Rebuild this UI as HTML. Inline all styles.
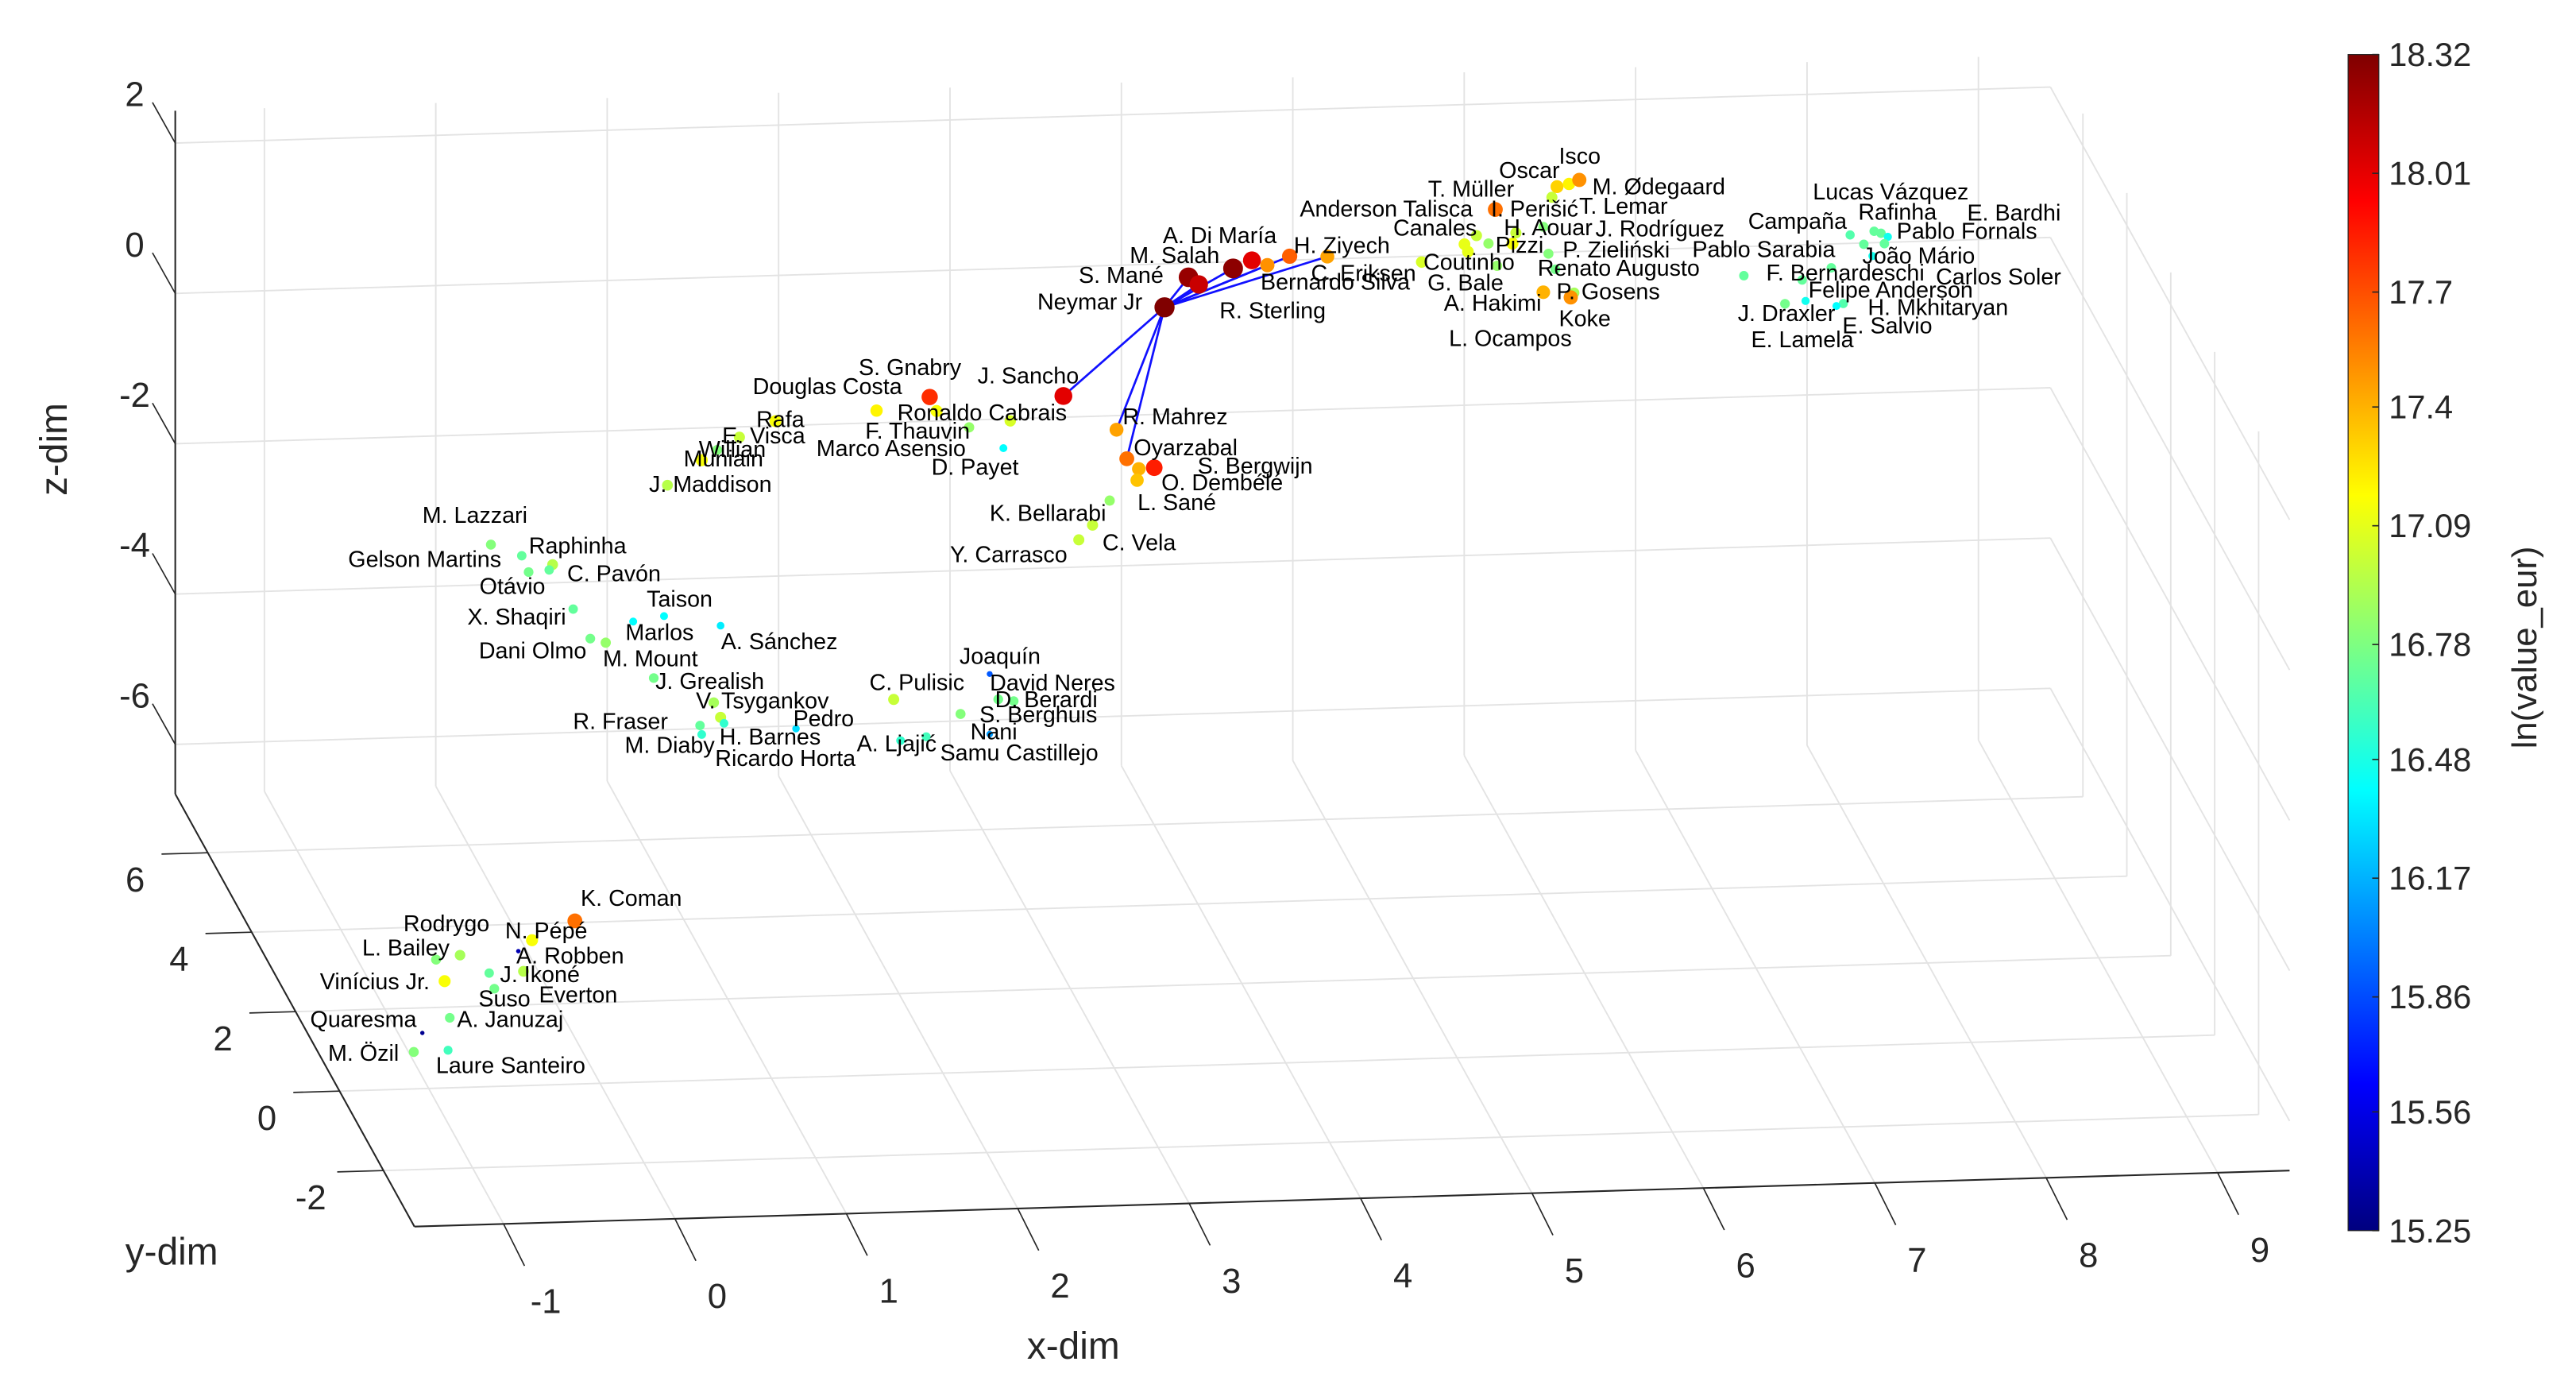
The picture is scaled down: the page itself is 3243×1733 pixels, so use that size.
<!DOCTYPE html>
<html><head><meta charset="utf-8"><style>
html,body{margin:0;padding:0;background:#fff;}
svg{display:block;font-family:"Liberation Sans",Arial,sans-serif;}
</style></head><body>
<svg id="chart" width="3243" height="1733" viewBox="0 0 1560 833.6" xmlns="http://www.w3.org/2000/svg">
<g id="grid"></g>
<g id="axes"></g>
<g id="links"></g>
<g id="points"></g>
<g id="labels"></g>
<g id="cbar"></g>
</svg>
<script>
const names=["Neymar Jr","S. Mané","R. Sterling","M. Salah","A. Di María","Bernardo Silva","H. Ziyech","C. Eriksen","J. Sancho","R. Mahrez","Oyarzabal","O. Dembélé","L. Sané","S. Bergwijn","K. Bellarabi","C. Vela","Y. Carrasco","Marco Asensio","D. Payet","S. Gnabry","Douglas Costa","Ronaldo Cabrais","F. Thauvin","Rafa","E. Visca","Willian","Muniain","J. Maddison","M. Lazzari","Raphinha","Gelson Martins","C. Pavón","Otávio","X. Shaqiri","Taison","Marlos","A. Sánchez","Dani Olmo","M. Mount","J. Grealish","V. Tsygankov","H. Barnes","Ricardo Horta","Pedro","R. Fraser","M. Diaby","C. Pulisic","Joaquín","David Neres","D. Berardi","S. Berghuis","Nani","A. Ljajić","Samu Castillejo","K. Coman","N. Pépé","Rodrygo","L. Bailey","A. Robben","J. Ikoné","Suso","Everton","Vinícius Jr.","Quaresma","A. Januzaj","M. Özil","Laure Santeiro","Coutinho","Canales","L. Ocampos","J. Rodríguez","T. Lemar","I. Perišić","H. Aouar","Pizzi","G. Bale","A. Hakimi","P. Gosens","Koke","P. Zieliński","Renato Augusto","T. Müller","Isco","Oscar","M. Ødegaard","Anderson Talisca","Campaña","Lucas Vázquez","Rafinha","E. Bardhi","Pablo Fornals","Carlos Soler","João Mário","F. Bernardeschi","Pablo Sarabia","Felipe Anderson","J. Draxler","E. Lamela","H. Mkhitaryan","E. Salvio"];
const xs=[4.19,4.33,4.39,4.59,4.70,4.79,4.92,5.14,3.60,3.91,3.97,4.04,4.03,4.13,3.87,3.77,3.69,3.29,3.25,2.82,2.51,2.86,3.05,1.92,1.71,1.58,1.49,1.29,0.26,0.44,0.48,0.62,0.60,0.74,1.27,1.09,1.60,0.84,0.93,1.21,1.56,1.60,1.62,2.04,1.48,1.49,2.61,3.17,3.22,3.31,3.00,3.17,2.65,2.80,0.75,0.50,0.08,-0.06,0.42,0.45,0.25,0.28,-0.01,-0.14,0.02,-0.19,0.01,5.69,6.01,5.94,5.96,6.08,6.24,6.40,6.22,6.13,6.40,6.58,6.56,6.43,6.47,6.45,6.48,6.55,6.61,6.12,8.19,8.33,8.37,8.41,8.39,8.27,8.32,8.08,7.57,7.91,7.81,7.93,8.15,8.11];
const ys=new Array(names.length).fill(7);
const zs=[-0.32,0.07,-0.03,0.17,0.27,0.20,0.31,0.29,-1.46,-1.93,-2.32,-2.46,-2.61,-2.45,-2.87,-3.19,-3.38,-1.77,-2.13,-1.42,-1.58,-1.61,-1.84,-1.68,-1.88,-2.04,-2.17,-2.49,-3.21,-3.37,-3.59,-3.50,-3.57,-4.10,-4.23,-4.29,-4.38,-4.50,-4.56,-5.05,-5.40,-5.60,-5.68,-5.78,-5.70,-5.82,-5.43,-5.13,-5.47,-5.50,-5.65,-5.93,-5.98,-5.94,-8.25,-8.49,-8.66,-8.71,-8.63,-8.90,-8.91,-9.12,-9.00,-9.68,-9.49,-9.93,-9.92,0.18,0.51,0.40,0.30,0.40,0.53,0.60,0.39,0.10,-0.27,-0.29,-0.35,0.24,0.03,0.99,1.13,1.16,1.21,0.85,0.37,0.41,0.38,0.33,0.24,0.24,0.08,-0.06,-0.13,-0.21,-0.52,-0.49,-0.54,-0.57];
const vals=[18.32,18.25,18.1,18.28,18.02,17.5,17.65,17.45,18.02,17.45,17.6,17.4,17.35,17.85,16.85,17.0,17.0,17.05,16.4,17.8,17.2,17.15,16.85,17.15,17.0,16.8,17.15,16.95,16.8,16.7,16.75,16.95,16.7,16.7,16.4,16.4,16.35,16.75,16.85,16.75,16.9,17.0,16.55,16.3,16.7,16.55,17.0,15.9,16.75,16.75,16.8,16.1,16.55,16.6,17.6,17.15,16.9,16.8,15.4,16.95,16.7,16.75,17.15,15.3,16.75,16.8,16.6,17.05,17.0,17.1,17.1,16.85,17.0,16.8,17.15,16.85,17.4,16.9,17.5,16.8,16.75,17.0,17.3,17.2,17.5,17.6,16.65,16.7,16.7,16.45,16.7,16.7,16.45,16.7,16.7,16.7,16.75,16.45,16.65,16.4];
const labelDx=[-77,-66.5,12.5,-62.6,-54,-4.1,2.5,-9.9,-52,3.7,4.2,13.7,0.3,26.2,-72.7,6,-78,-117.4,-43.6,-43,-75,-23.8,-62.9,-11.6,-10.5,-11.1,-11,-11.2,-41.5,4.3,-109.3,8.8,-42.2,-64.1,-10.5,-4.7,0.3,-67.5,-1.7,1,-10.8,-0.7,-5.4,-1.7,-76.9,-46.6,-14.7,-18.3,-5.1,-11.3,11.5,-11.7,-26.5,8.4,3.5,-16.3,-34.3,-44.7,-1.2,-14.2,-6.5,27,-75.5,-67.9,4.4,-51.9,-7.3,1.1,-50.4,-9.4,77.2,54.9,-15.1,-23.9,-10.3,-42.1,-60.2,-10.7,-7.2,8.6,-10.7,-75,1.1,-42.4,7.9,-118.4,-61.8,-37.1,-13.8,48,7.4,43.6,-6.1,-39.4,-31.3,3.8,-28.6,-33,14.8,3.6];
const labelDy=[-3,-1,16,-7.6,-14.8,10.4,-6.2,10.5,-12,-7.7,-6.5,8.6,13.7,-0.7,8,10.8,9.3,17.1,11.7,-17.7,-14.4,1.3,2.4,-0.8,-0.7,-0.2,-0.5,-0.3,-17.6,-5.8,-7.5,5.7,10.2,5,-10.1,6.8,9.8,7.5,10,2.3,-0.7,12.2,21.6,-5.8,-2.3,6.7,-10,-10.4,-9.7,-0.6,0.8,-1.1,2.1,10,-13.5,-5.4,-18.7,-6.8,3,2.3,15.8,4,0.5,-8,1.1,0.9,9.4,0.3,-4.4,57.4,-13.6,-22.4,-14.3,0.8,1.1,10.5,6.8,-0.5,13.1,-2.1,-0.5,-4.8,-18.3,-8,4.3,0,-8,-23.6,-12.5,-14.2,-7.4,19.9,0,3.3,-15.7,6.4,6.1,23.6,2.7,12.2];
const hub="Neymar Jr";
const neighbors=["S. Mané","R. Sterling","M. Salah","Bernardo Silva","H. Ziyech","C. Eriksen","J. Sancho","R. Mahrez","Oyarzabal"];
const xTicks=[-1,0,1,2,3,4,5,6,7,8,9];
const yTicks=[-2,0,2,4,6];
const zTicks=[-6,-4,-2,0,2];
const cbTicks=[15.25,15.56,15.86,16.17,16.48,16.78,17.09,17.4,17.7,18.01,18.32];
const cbTickLabels=["15.25","15.56","15.86","16.17","16.48","16.78","17.09","17.4","17.7","18.01","18.32"];
const XMIN=-1.52,XMAX=9.42,YMIN=-3.41,YMAX=7.48,ZMIN=-6.66,ZMAX=2.43;
const VMIN=15.25,VMAX=18.32;

const NS="http://www.w3.org/2000/svg";
function P(x,y,z){return [363.4+x*103.8-y*13.3, 352.8-x*3.1-y*24.05-z*45.5];}
function mk(tag,attrs,parent){const e=document.createElementNS(NS,tag);for(const k in attrs)e.setAttribute(k,attrs[k]);parent.appendChild(e);return e;}
function line(a,b,parent,stroke,w){return mk("line",{x1:a[0],y1:a[1],x2:b[0],y2:b[1],stroke:stroke,"stroke-width":w},parent);}
function jet(f){f=Math.max(0,Math.min(1,f));
 const r=Math.max(0,Math.min(1,1.5-Math.abs(4*f-3)));
 const g=Math.max(0,Math.min(1,1.5-Math.abs(4*f-2)));
 const b=Math.max(0,Math.min(1,1.5-Math.abs(4*f-1)));
 return `rgb(${Math.round(r*255)},${Math.round(g*255)},${Math.round(b*255)})`;}

const grid=document.getElementById("grid"),axes=document.getElementById("axes");
const GC="#e3e3e3",GW=0.9;
// back wall
xTicks.forEach(x=>{const l=line(P(x,YMAX,ZMIN),P(x,YMAX,ZMAX),grid,GC,GW);

});
zTicks.forEach(z=>{const l=line(P(XMIN,YMAX,z),P(XMAX,YMAX,z),grid,GC,GW);

});
// floor
xTicks.forEach(x=>{const l=line(P(x,YMIN,ZMIN),P(x,YMAX,ZMIN),grid,GC,GW);

});
yTicks.forEach(y=>{const l=line(P(XMIN,y,ZMIN),P(XMAX,y,ZMIN),grid,GC,GW);

});
// right wall
yTicks.forEach(y=>{const l=line(P(XMAX,y,ZMIN),P(XMAX,y,ZMAX),grid,GC,GW);

});
zTicks.forEach(z=>{const l=line(P(XMAX,YMIN,z),P(XMAX,YMAX,z),grid,GC,GW);

});

const AC="#262626";
let a=line(P(XMIN,YMIN,ZMIN),P(XMAX,YMIN,ZMIN),axes,AC,1);


a=line(P(XMIN,YMIN,ZMIN),P(XMIN,YMAX,ZMIN),axes,AC,1);


a=line(P(XMIN,YMAX,ZMIN),P(XMIN,YMAX,ZMAX),axes,AC,1);



const TF=21;
xTicks.forEach((x,i)=>{const b=P(x,YMIN,ZMIN);
 const t=line(b,[b[0]+12.7,b[1]+25.4],axes,AC,0.8);
 
 
 const tx=mk("text",{x:b[0]+25.6,y:b[1]+47,"font-size":TF,"text-anchor":"middle","dominant-baseline":"central",fill:AC},axes);
 tx.textContent=String(x);
 
 });
yTicks.forEach(y=>{const b=P(XMIN,y,ZMIN);
 const t=line(b,[b[0]-28,b[1]+0.8],axes,AC,0.8);
 
 
 const tx=mk("text",{x:b[0]-44,y:b[1]+16.5,"font-size":TF,"text-anchor":"middle","dominant-baseline":"central",fill:AC},axes);
 tx.textContent=String(y);
 
 });
zTicks.forEach(z=>{const b=P(XMIN,YMAX,z);
 const t=line(b,[b[0]-13.8,b[1]-24.6],axes,AC,0.8);
 
 
 const tx=mk("text",{x:b[0]-24.6,y:b[1]-29.3,"font-size":TF,"text-anchor":"middle","dominant-baseline":"central",fill:AC},axes);
 tx.textContent=String(z);
 
 });
let at=mk("text",{x:650,y:815,"font-size":23,"text-anchor":"middle","dominant-baseline":"central",fill:AC},axes);at.textContent="x-dim";


at=mk("text",{x:104,y:758,"font-size":23,"text-anchor":"middle","dominant-baseline":"central",fill:AC},axes);at.textContent="y-dim";


at=mk("text",{x:0,y:0,"font-size":23,"text-anchor":"middle","dominant-baseline":"central",fill:AC,transform:"translate(33,272) rotate(-90)"},axes);at.textContent="z-dim";



// neighbor links
const links=document.getElementById("links");
const hi=names.indexOf(hub);const hp=P(xs[hi],ys[hi],zs[hi]);
neighbors.forEach(n=>{const j=names.indexOf(n);if(j<0)return;
 const q=P(xs[j],ys[j],zs[j]);
 const l=line(hp,q,links,"#1010ff",1.3);
 
 });

// points & labels
const pts=document.getElementById("points"),lbls=document.getElementById("labels");
names.forEach((n,i)=>{const p=P(xs[i],ys[i],zs[i]);
 const f=(vals[i]-VMIN)/(VMAX-VMIN);
 const r=1.3+4.8*Math.pow(Math.max(0,f),1.5);
 const c=mk("circle",{cx:p[0],cy:p[1],r:r,fill:jet(f)},pts);
 
 
 const t=mk("text",{x:p[0]+labelDx[i],y:p[1]+labelDy[i],"font-size":13.8,"dominant-baseline":"central",fill:"#000"},lbls);
 t.textContent=n;
 
 });

// colorbar
const cb=document.getElementById("cbar");
const defs=mk("defs",{},cb);
const grad=mk("linearGradient",{id:"jetg",x1:0,y1:1,x2:0,y2:0},defs);
[[0,"#00007f"],[0.125,"#0000ff"],[0.375,"#00ffff"],[0.625,"#ffff00"],[0.875,"#ff0000"],[1,"#7f0000"]].forEach(s=>mk("stop",{offset:s[0],"stop-color":s[1]},grad));
const CBX=1422,CBW=18.6,CBT=33,CBB=745;
const rect=mk("rect",{x:CBX,y:CBT,width:CBW,height:CBB-CBT,fill:"url(#jetg)",stroke:"#262626","stroke-width":0.6},cb);


function cbY(v){return CBB-(v-VMIN)/(VMAX-VMIN)*(CBB-CBT);}
cbTicks.forEach((v,i)=>{const y=cbY(v);
 const t=line([CBX+CBW-4,y],[CBX+CBW,y],cb,"#262626",0.8);
 
 
 const tx=mk("text",{x:CBX+CBW+6,y:y,"font-size":20,"dominant-baseline":"central",fill:"#262626"},cb);
 tx.textContent=cbTickLabels[i];
 
 });
const cl=mk("text",{x:0,y:0,"font-size":21,"text-anchor":"middle","dominant-baseline":"central",fill:"#262626",transform:"translate(1529,392) rotate(-90)"},cb);
cl.textContent="ln(value_eur)";


</script>
</body></html>
